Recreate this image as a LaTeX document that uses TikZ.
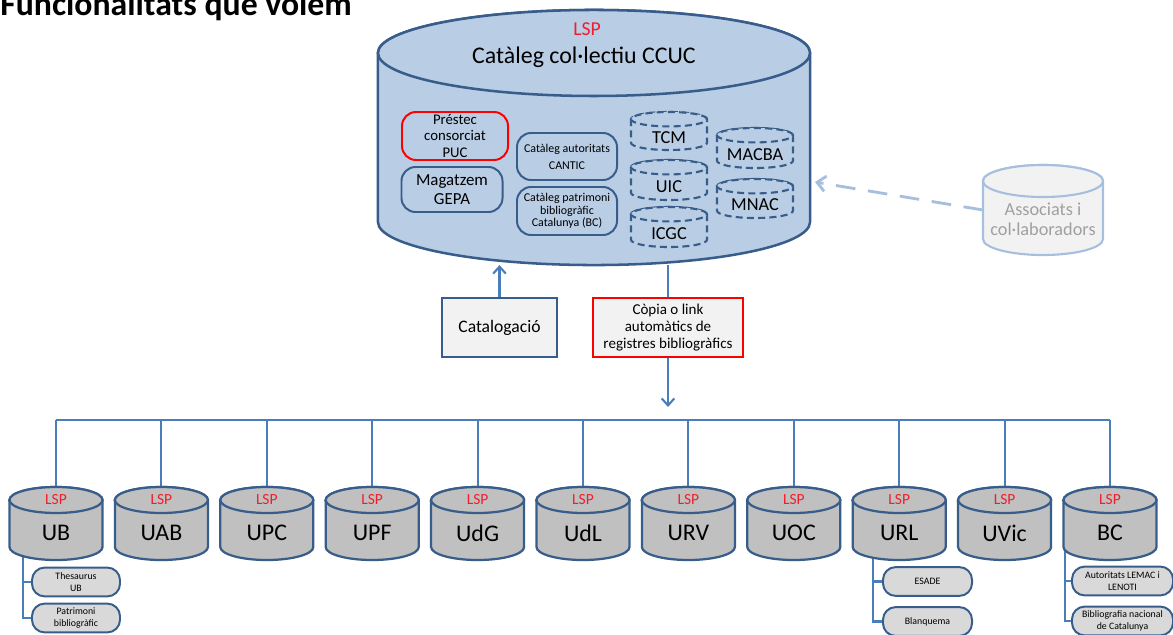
\documentclass[tikz,border=0pt]{standalone}
\usepackage{fontspec}
\setmainfont{Carlito}
\usetikzlibrary{arrows.meta,backgrounds,positioning}
\definecolor{linkblue}{HTML}{4A7EBB}
\definecolor{edgeblue}{HTML}{385D8A}
\definecolor{ccucfill}{HTML}{B9CDE5}
\definecolor{paleblue}{HTML}{A7BFDE}
\definecolor{palegray}{HTML}{F2F2F2}
\definecolor{dbgray}{HTML}{C0C0C0}
\definecolor{subgray}{HTML}{D9D9D9}
\definecolor{lspred}{HTML}{F01E2C}
\definecolor{ghost}{HTML}{A0A0A0}
% #1 style, #2 node, #3 x radius, #4 lid y radius
\newcommand\dbdrum[4]{%
    \path [#1] ([yshift=-#4]#2.north west) -- ([yshift=#4]#2.south west)
        arc [start angle=180, end angle=360, x radius=#3, y radius=#4]
        -- ([yshift=-#4]#2.north east)
        arc [start angle=0, end angle=180, x radius=#3, y radius=#4] -- cycle;
    \path [#1] ([yshift=-#4]#2.north) ellipse [x radius=#3, y radius=#4];
}
\tikzset{
    drumnode/.style={rectangle, inner sep=0pt, outer sep=0pt},
    ccucline/.style={draw=edgeblue, line width=1.8pt, fill=ccucfill},
    uniline/.style={draw=edgeblue, line width=1.6pt, fill=dbgray},
    memberline/.style={draw=edgeblue, line width=1.5pt, dash pattern=on 5pt off 3pt, fill=ccucfill},
    assocline/.style={draw=paleblue, line width=1.5pt, fill=palegray},
    membertext/.style={drumnode, minimum width=1.9cm, font=\fontsize{13}{13}\selectfont},
    pill/.style={rectangle, rounded corners=10pt, draw=edgeblue, line width=1.4pt,
        fill=ccucfill, align=center, inner sep=1pt},
    subpill/.style={rectangle, rounded corners=9pt, draw=edgeblue, line width=1.4pt,
        fill=subgray, align=center, inner sep=1pt, minimum height=0.72cm,
        font=\fontsize{7}{8.5}\selectfont},
    lsp/.style={text=lspred, inner sep=0pt},
    link/.style={draw=linkblue, line width=1.5pt},
    linkarrow/.style={link, -{Straight Barb[length=5pt,width=9pt]}}
}
\begin{document}
\begin{tikzpicture}[x=0.025cm, y=-0.025cm]
    \useasboundingbox (0,0) rectangle (1173,634);
    \node [anchor=base west, inner sep=0pt, font=\bfseries\fontsize{24}{24}\selectfont] (title) at (0,15) {Funcionalitats que volem};

    \node [drumnode, minimum width=10.8cm, minimum height=6.375cm] (ccuc) at (594,137.5) {};
    \dbdrum{ccucline}{ccuc}{5.4cm}{1.075cm}
    \node [lsp, font=\fontsize{14}{14}\selectfont] (ccuclsp) at (587,29) {LSP};
    \node [font=\fontsize{17}{17}\selectfont] (ccucname) at (584,57) {Catàleg col·lectiu CCUC};

    \node [pill, draw=red, minimum width=2.65cm, minimum height=1.2cm, font=\fontsize{10.5}{11.7}\selectfont] (puc) at (455,136) {Préstec\\consorciat\\PUC};
    \node [pill, minimum width=2.525cm, minimum height=1.125cm, font=\fontsize{12}{13}\selectfont] (gepa) at (452,189.5) {Magatzem\\GEPA};
    \node [pill, minimum width=2.5cm, minimum height=1.175cm, font=\fontsize{8.5}{12}\selectfont] (cantic) at (567,156.5) {Catàleg autoritats\\CANTIC};
    \node [pill, minimum width=2.5cm, minimum height=1.2cm, font=\fontsize{8.5}{9}\selectfont] (patrbc) at (567,211) {Catàleg patrimoni\\bibliogràfic\\Catalunya (BC)};

    \node [membertext, minimum height=0.95cm] (tcm) at (669,131) {};
    \node [membertext, minimum height=1cm] (uic) at (669,180) {};
    \node [membertext, minimum height=1cm] (icgc) at (669,227) {};
    \node [membertext, minimum height=1cm] (macba) at (755,148) {};
    \node [membertext, minimum height=0.975cm] (mnac) at (755,198.5) {};
    \foreach \member/\txt in {tcm/TCM,uic/UIC,icgc/ICGC,macba/MACBA,mnac/MNAC} {
        \dbdrum{memberline}{\member}{0.95cm}{0.18cm}
        \node [membertext] (\member-txt) at ([yshift=-4.5pt]\member.center) {\txt};
    }

    \node [drumnode, minimum width=3cm, minimum height=2.25cm] (assoc) at (1043,210) {};
    \dbdrum{assocline}{assoc}{1.5cm}{0.4cm}
    \node [align=center, text=ghost, font=\fontsize{13}{14.5}\selectfont] (assoctxt) at (1043,219) {Associats i\\col·laboradors};
    \coordinate (assocend) at (815,182);
    \draw [paleblue, line width=2pt, dash pattern=on 14pt off 9pt, -{Straight Barb[length=6pt,width=11pt]}] (assoc.west) -- (assocend);

    \node [rectangle, draw=edgeblue, line width=1.6pt, fill=palegray, minimum width=2.875cm,
        minimum height=1.475cm, font=\fontsize{12.5}{14}\selectfont] (cat) at (499.5,327.5) {Catalogació};
    \node [rectangle, draw=red, line width=1.6pt, fill=palegray, minimum width=3.75cm,
        minimum height=1.475cm, align=center, font=\fontsize{10.7}{12.4}\selectfont] (copia) at (668,327.5) {Còpia o link\\automàtics de\\registres bibliogràfics};
    \draw [linkarrow] (cat) -- (cat |- ccuc.south);
    \draw [link] (copia |- ccuc.south) -- (copia);
    \coordinate (busin) at (668,407);
    \coordinate (bus) at (668,420);
    \draw [linkarrow] (copia) -- (busin);

    \foreach \uni [count=\i from 0] in {UB,UAB,UPC,UPF,UdG,UdL,URV,UOC,URL,UVic,BC} {
        \node [drumnode, minimum width=2.325cm, minimum height=1.825cm] (\uni) at (56+105.4*\i,523.5) {};
        \dbdrum{uniline}{\uni}{1.1625cm}{0.325cm}
        \node [lsp, font=\fontsize{11}{11}\selectfont] (\uni-lsp) at (56+105.4*\i,500) {LSP};
        \node [font=\fontsize{17}{17}\selectfont] (\uni-txt) at (56+105.4*\i,533) {\uni};
    }

    \node [subpill, minimum width=2.2cm] (thes) at (76,582) {Thesaurus\\UB};
    \node [subpill, minimum width=2.2cm] (patr) at (76,618) {Patrimoni\\bibliogràfic};
    \node [subpill, minimum width=2.225cm] (esade) at (927.5,581.5) {ESADE};
    \node [subpill, minimum width=2.225cm] (blanq) at (927.5,621.5) {Blanquema};
    \node [subpill, minimum width=2.525cm] (lemac) at (1122.5,581) {Autoritats LEMAC i\\LENOTI};
    \node [subpill, minimum width=2.525cm] (bibnac) at (1122.5,621) {Bibliografia nacional\\de Catalunya};

    \coordinate (ubtrunk) at (23,530);
    \coordinate (urltrunk) at (873,530);
    \coordinate (bctrunk) at (1065,530);

    \begin{scope}[on background layer]
        \draw [link] (UB |- bus) -- (BC |- bus);
        \foreach \uni in {UB,UAB,UPC,UPF,UdG,UdL,URV,UOC,URL,UVic,BC}
            \draw [link] (\uni) -- (\uni |- bus);
        \draw [link] (ubtrunk) |- (patr);
        \draw [link] (ubtrunk |- thes) -- (thes);
        \draw [link] (urltrunk) |- (blanq);
        \draw [link] (urltrunk |- esade) -- (esade);
        \draw [link] (bctrunk) |- (bibnac);
        \draw [link] (bctrunk |- lemac) -- (lemac);
    \end{scope}
\end{tikzpicture}
\end{document}
